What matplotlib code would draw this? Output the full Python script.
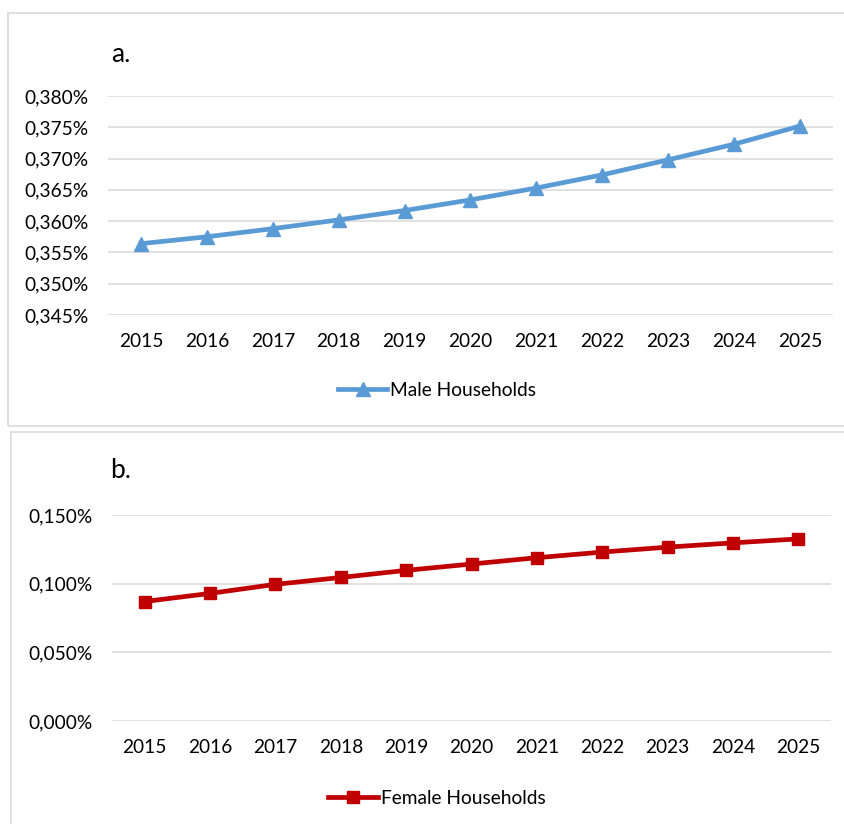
import matplotlib
matplotlib.use('Agg')
from matplotlib import pyplot as plt
from matplotlib.ticker import FuncFormatter, MultipleLocator
from matplotlib.patches import Rectangle
import numpy as np

plt.rcParams['font.family'] = ['Lato', 'DejaVu Sans']

years = ['2015', '2016', '2017', '2018', '2019', '2020', '2021', '2022', '2023', '2024', '2025']
# values in percent
male = [0.3564, 0.3575, 0.3588, 0.3602, 0.3617, 0.3634, 0.3653, 0.3674, 0.3698, 0.3723, 0.3752]
female = [0.0870, 0.0929, 0.0995, 0.1045, 0.1097, 0.1143, 0.1189, 0.1230, 0.1266, 0.1297, 0.1326]

W, H = 845, 824
fig = plt.figure(figsize=(W / 100, H / 100), dpi=100)

# panel frames
border = '#d9d9d9'
fig.patches.append(Rectangle((8 / W, 1 - 426 / H), 900 / W, 413 / H, transform=fig.transFigure,
                             fill=False, edgecolor=border, linewidth=1.2))
fig.patches.append(Rectangle((11 / W, -0.1), 900 / W, 1 - 432 / H + 0.1, transform=fig.transFigure,
                             fill=False, edgecolor=border, linewidth=1.2))

pct = FuncFormatter(lambda v, pos: f"{v:.3f}%".replace('.', ','))
FS = 13.8


def panel(rect, vals, ylim, step, color, marker, msize, label, letter, letter_xy, leg_xy):
    ax = fig.add_axes(rect)
    x = np.arange(len(years))
    ax.plot(x, vals, color=color, linewidth=3.4, marker=marker, markersize=msize,
            label=label, zorder=3)
    ax.set_xlim(-0.5, len(years) - 0.5)
    ax.set_ylim(*ylim)
    ax.set_xticks(x)
    ax.set_xticklabels(years)
    ax.yaxis.set_major_locator(MultipleLocator(step))
    ax.yaxis.set_major_formatter(pct)
    ax.grid(axis='y', color='#d9d9d9', linewidth=1.1)
    ax.set_axisbelow(True)
    for s in ax.spines.values():
        s.set_visible(False)
    ax.tick_params(axis='both', length=0, labelsize=FS, colors='black')
    ax.tick_params(axis='y', pad=14)
    ax.tick_params(axis='x', pad=13)
    fig.text(letter_xy[0] / W, 1 - letter_xy[1] / H, letter, fontsize=19, va='center', ha='left')
    ax.legend(loc='center', bbox_to_anchor=(leg_xy[0] / W, 1 - leg_xy[1] / H),
              bbox_transform=fig.transFigure, frameon=False, fontsize=FS,
              handlelength=2.6, handletextpad=0.15)
    return ax


panel([108 / W, 1 - 315 / H, 725 / W, 219 / H], male, (0.345, 0.380), 0.005,
      '#5b9bd5', '^', 9.5, 'Male Households', 'a.', (111, 54), (437, 390))
panel([112 / W, 1 - 721 / H, 719 / W, 206 / H], female, (0.0, 0.150), 0.05,
      '#c00000', 's', 8.5, 'Female Households', 'b.', (110, 470), (437, 798))

fig.savefig('out.png', dpi=100)
